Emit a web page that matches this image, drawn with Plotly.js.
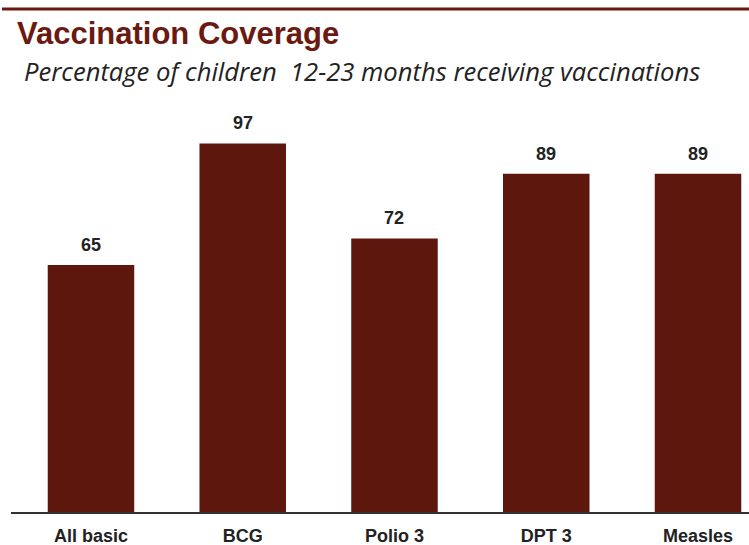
<!DOCTYPE html>
<html>
<head>
<meta charset="utf-8">
<script src="https://cdn.plot.ly/plotly-3.0.1.min.js"></script>
<style>html,body{margin:0;padding:0;background:#fff;}#chart{width:749px;height:545px;}</style>
</head>
<body>
<div id="chart"></div>
<script>
const categories = ["All basic", "BCG", "Polio 3", "DPT 3", "Measles"];
const coverage = [65, 97, 72, 89, 89];

const barColor = "#5E170D";
const trace = {
  type: "bar",
  x: categories,
  y: coverage,
  marker: {color: barColor},
  hoverinfo: "x+y"
};

const annotations = categories.map((c, i) => ({
  x: c, y: coverage[i], xref: "x", yref: "y",
  text: "<b>" + coverage[i] + "</b>",
  showarrow: false, yanchor: "bottom", yshift: 8,
  font: {family: "Liberation Sans, Arial, sans-serif", size: 18, color: "#222"}
}));
annotations.push({
  xref: "paper", yref: "paper", x: (22 - 11) / 738, y: (512 - 71) / 380,
  xanchor: "left", yanchor: "middle", showarrow: false,
  text: "<i>Percentage of children  12-23 months receiving vaccinations</i>",
  font: {family: "Open Sans, sans-serif", size: 25.6, color: "#222"}
});

const layout = {
  width: 749, height: 545,
  margin: {l: 11, r: 0, t: 132, b: 33},
  paper_bgcolor: "#fff", plot_bgcolor: "#fff",
  bargap: 0.43,
  showlegend: false,
  title: {
    text: "<b>Vaccination Coverage</b>",
    xref: "container", yref: "container",
    x: 17 / 749, xanchor: "left",
    y: 1 - 33 / 545, yanchor: "middle",
    font: {family: "Liberation Sans, Arial, sans-serif", size: 31, color: "#6B1A11"}
  },
  xaxis: {
    type: "category",
    range: [-0.527, 4.336],
    showline: true, linecolor: "#333", linewidth: 2,
    ticks: "", ticklabelstandoff: 6,
    tickfont: {family: "Liberation Sans, Arial, sans-serif", size: 18, color: "#222"},
    tickprefix: "<b>", ticksuffix: "</b>",
    showgrid: false, zeroline: false, fixedrange: true
  },
  yaxis: {
    range: [0, 100], visible: false, showgrid: false, zeroline: false, fixedrange: true
  },
  shapes: [{
    type: "line", xref: "paper", yref: "paper",
    x0: (2 - 11) / 738, x1: 1.02, y0: (512 - 9) / 380, y1: (512 - 9) / 380,
    line: {color: "#6B1A11", width: 3}
  }],
  annotations: annotations
};

Plotly.newPlot("chart", [trace], layout, {displayModeBar: false, staticPlot: true});
</script>
</body>
</html>
